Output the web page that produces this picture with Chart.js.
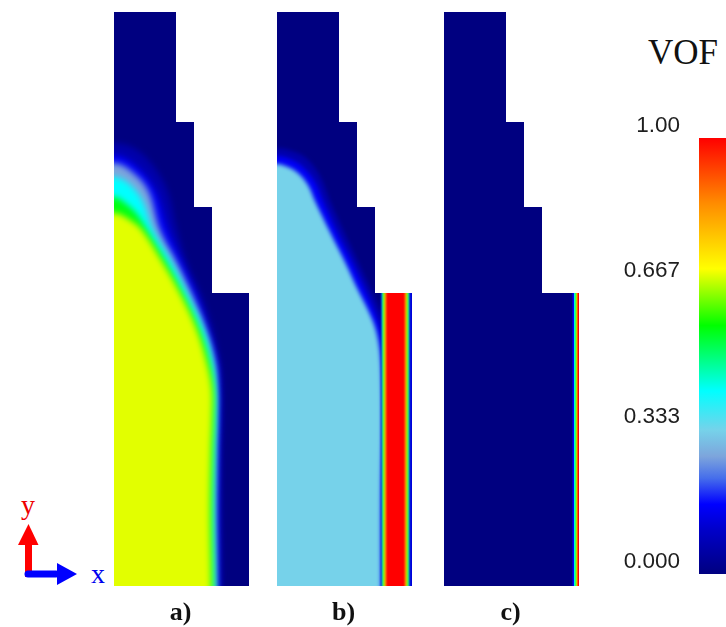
<!DOCTYPE html>
<html><head><meta charset="utf-8">
<script src="https://cdn.jsdelivr.net/npm/chart.js@4.4.1/dist/chart.umd.min.js"></script>
<style>
html,body{margin:0;padding:0;background:#fff;}
body{width:726px;height:627px;overflow:hidden;position:relative;}
canvas{position:absolute;}
.lbl{position:absolute;font-family:"Liberation Serif","Times New Roman",serif;line-height:1;white-space:nowrap;transform:translate(-50%,-50%);color:#111;}
svg{position:absolute;left:0;top:0;}
</style></head><body>
<svg width="130" height="600">
  <rect x="25" y="541" width="7" height="36" fill="#ff0000"/>
  <polygon points="18,545 38.5,545 28.5,524" fill="#ff0000"/>
  <rect x="24.5" y="570.5" width="35" height="7" rx="3.5" fill="#0000ff"/>
  <polygon points="57,563 57,585 77,574" fill="#0000ff"/>
</svg>
<div class="lbl" style="left:28px;top:505px;font-size:28px;color:#ee0000">y</div>
<div class="lbl" style="left:98px;top:574px;font-size:28px;color:#0000ee">x</div>
<div class="lbl" style="left:683px;top:52px;font-size:35px;">VOF</div>
<script>
// ---------------- DATA ----------------
// Domain outline shared by the three snapshots (local units, origin = bottom-left corner)
const DOMAIN_X = [0, 135, 135, 98, 98, 80, 80, 62, 62, 0];
const DOMAIN_Y = [0, 0, 293, 293, 379, 379, 464, 464, 574, 574];

// Snapshot a): VOF iso-lines, from the left wall down to the bottom
const A_LEVELS = [0.06, 0.15, 0.27, 0.42, 0.56, 0.685];
const A_ISO_06 = [[0,443],[26,434],[51,401],[63,356],[73,323],[88,289],[99,256],[106,223],[108,196],[108,166],[107,136],[107,73],[107.5,0]];
const A_ISO_15 = [[0,431],[21,421],[41,396],[54,356],[68,323],[83,289],[94,256],[103,223],[105,196],[105,166],[104.5,136],[104,73],[104.5,0]];
const A_ISO_27 = [[0,423],[16,416],[34,396],[46,356],[63,323],[79,289],[92,256],[101,223],[103,196],[103,166],[102.5,136],[102,73],[102.5,0]];
const A_ISO_42 = [[0,409],[14,403],[28,386],[39,356],[58,323],[75,289],[90,256],[99,223],[102,196],[102,166],[101,136],[100,73],[101,0]];
const A_ISO_56 = [[0,389],[11,383],[22,373],[33,356],[53,323],[71,289],[86,256],[96,223],[100,196],[100,166],[99,136],[98,73],[99,0]];
const A_ISO_685 = [[0,373],[16,366],[28,356],[49,323],[68,289],[83,256],[93,223],[98,196],[98,166],[97,136],[96,73],[97,0]];

// Snapshot b): VOF iso-lines + liquid film along the right wall
const B_LEVELS = [0.06, 0.15, 0.33];
const B_ISO_06 = [[0,438],[15,435],[29,428],[43,410],[53,385],[67,354],[81,324],[94,296],[103,276],[108,259],[108,0]];
const B_ISO_15 = [[0,430],[13,427],[25,420],[38,404],[46,385],[60,354],[75,324],[88,296],[97,276],[103,259],[106,241],[107,226],[107,0]];
const B_ISO_33 = [[0,422],[11,419],[21,413],[31,401],[38,385],[53,354],[68,324],[81,296],[91,276],[98,259],[102,241],[104,221],[105,186],[105,146],[104,86],[104,0]];
const B_FILM_LEVELS = [0.12, 0.45, 0.62, 0.78, 1.0];
const B_FILM_LEFT  = [104, 105, 106, 107.5, 109];
const B_FILM_RIGHT = [135, 132, 131, 129.5, 128];

// Snapshot c): thin film along the right wall
const C_FILM_LEVELS = [0.15, 0.45, 0.62, 0.78, 1.0];
const C_FILM_LEFT  = [128.5, 130, 131.5, 132.5, 133.5];
const C_FILM_RIGHT = [135, 135, 135, 135, 135];

const FILM_TOP = 293;

// Colour bar
const CB_TICKS  = [0, 0.333, 0.667, 1.0];
const CB_LABELS = ['0.000', '0.333', '0.667', '1.00'];
const PANEL_NAMES = ['a)', 'b)', 'c)'];

// ---------------- STYLE / LAYOUT ----------------
const CMAP_POS = [0, 0.10, 0.16, 0.22, 0.27, 0.33, 0.42, 0.57, 0.70, 0.85, 1];
const CMAP_RGB = [[0,0,128],[0,0,200],[0,0,255],[70,110,235],[125,165,220],[118,210,234],[0,255,255],[0,255,0],[255,255,0],[255,140,0],[255,0,0]];
function cmap(v) {
  for (let i = 1; i < CMAP_POS.length; i++) {
    if (v <= CMAP_POS[i]) {
      const t = (v - CMAP_POS[i-1]) / (CMAP_POS[i] - CMAP_POS[i-1]);
      const a = CMAP_RGB[i-1], b = CMAP_RGB[i];
      return `rgb(${a.map((c, k) => Math.round(c + (b[k] - c) * t)).join(',')})`;
    }
  }
  return 'rgb(255,0,0)';
}
const M = 10;        // canvas margin around each domain
const FAR = 300;     // closing points of iso polygons lie far outside the domain
const DOMAIN_W = Math.max(...DOMAIN_X), DOMAIN_H = Math.max(...DOMAIN_Y);
const PANEL_LEFT = [114, 277, 444], PANEL_TOP = 12;

const layerPlugin = {
  id: 'layer',
  beforeDatasetsDraw(chart, args, opts) {
    const {ctx, scales: {x, y}} = chart;
    ctx.save();
    ctx.beginPath();
    DOMAIN_X.forEach((v, i) => {
      const px = x.getPixelForValue(v), py = y.getPixelForValue(DOMAIN_Y[i]);
      if (i) ctx.lineTo(px, py); else ctx.moveTo(px, py);
    });
    ctx.closePath();
    ctx.clip();
    if (opts.blur) ctx.filter = `blur(${opts.blur}px)`;
  },
  afterDatasetsDraw(chart) { chart.ctx.restore(); }
};

function polyDataset(poly, color, order, tension) {
  return { data: poly.map(([x, y]) => ({x, y})), backgroundColor: color, borderColor: 'rgba(0,0,0,0)',
           borderWidth: 0, fill: 'shape', pointRadius: 0, order, tension: tension || 0 };
}
function isoDatasets(isos, levels) {
  return isos.map((pts, i) => {
    const first = pts[0], last = pts[pts.length - 1];
    const poly = [[-FAR, first[1]], ...pts, [last[0], -FAR], [-FAR, -FAR]];
    return polyDataset(poly, cmap(levels[i]), isos.length - i, 0.35);
  });
}
function filmDatasets(lefts, rights, levels) {
  return levels.map((lv, i) => {
    const r = rights[i] >= DOMAIN_W ? DOMAIN_W + M : rights[i];
    const poly = [[lefts[i], -M], [r, -M], [r, FILM_TOP + M], [lefts[i], FILM_TOP + M]];
    return polyDataset(poly, cmap(lv), levels.length - i, 0);
  });
}
function layer(panel, datasets, blur) {
  const cv = document.createElement('canvas');
  cv.width = DOMAIN_W + 2 * M; cv.height = DOMAIN_H + 2 * M;
  cv.style.left = (PANEL_LEFT[panel] - M) + 'px';
  cv.style.top = (PANEL_TOP - M) + 'px';
  document.body.appendChild(cv);
  return new Chart(cv, {
    type: 'line',
    data: { datasets },
    options: {
      responsive: false, animation: false, devicePixelRatio: 1,
      layout: { padding: 0 },
      scales: {
        x: { type: 'linear', min: -M, max: DOMAIN_W + M, display: false },
        y: { type: 'linear', min: -M, max: DOMAIN_H + M, display: false }
      },
      plugins: { legend: { display: false }, tooltip: { enabled: false }, layer: { blur } }
    },
    plugins: [layerPlugin]
  });
}
const domainPoly = DOMAIN_X.map((x, i) => [x, DOMAIN_Y[i]]);
[0, 1, 2].forEach(p => layer(p, [polyDataset(domainPoly, cmap(0), 1, 0)], 0));
layer(0, isoDatasets([A_ISO_06, A_ISO_15, A_ISO_27, A_ISO_42, A_ISO_56, A_ISO_685], A_LEVELS), 3);
layer(1, isoDatasets([B_ISO_06, B_ISO_15, B_ISO_33], B_LEVELS), 2);
layer(1, filmDatasets(B_FILM_LEFT, B_FILM_RIGHT, B_FILM_LEVELS), 0.8);
layer(2, filmDatasets(C_FILM_LEFT, C_FILM_RIGHT, C_FILM_LEVELS), 0.6);

PANEL_NAMES.forEach((n, i) => {
  const d = document.createElement('div');
  d.className = 'lbl';
  d.textContent = n;
  d.style.left = (PANEL_LEFT[i] + DOMAIN_W / 2 - 1) + 'px';
  d.style.top = '612px';
  d.style.fontSize = '26px';
  d.style.fontWeight = 'bold';
  document.body.appendChild(d);
});

// Colour bar
const cb = document.createElement('canvas');
cb.width = 140; cb.height = 514;
cb.style.left = '600px'; cb.style.top = '100px';
document.body.appendChild(cb);
new Chart(cb, {
  type: 'bar',
  data: { labels: ['VOF'], datasets: [{
    data: [1],
    backgroundColor: (c) => {
      const a = c.chart.chartArea;
      if (!a) return cmap(0);
      const g = c.chart.ctx.createLinearGradient(0, a.bottom, 0, a.top);
      CMAP_POS.forEach((p, i) => g.addColorStop(p, `rgb(${CMAP_RGB[i].join(',')})`));
      return g;
    },
    borderWidth: 0, barPercentage: 1, categoryPercentage: 1
  }] },
  options: {
    responsive: false, animation: false, devicePixelRatio: 1,
    layout: { padding: { top: 38, bottom: 40, left: 0, right: 0 } },
    scales: {
      x: { display: false },
      y: {
        min: 0, max: 1, position: 'left',
        afterBuildTicks: s => { s.ticks = CB_TICKS.map(v => ({ value: v })); },
        afterFit: s => { s.width = 99; },
        grid: { display: false, drawTicks: false }, border: { display: false },
        ticks: { padding: 19, labelOffset: -12, color: '#1e1e1e',
                 font: { family: 'Liberation Sans', size: 22.5 },
                 callback: (v, i) => CB_LABELS[i] }
      }
    },
    plugins: { legend: { display: false }, tooltip: { enabled: false } }
  }
});
</script>
</body></html>
